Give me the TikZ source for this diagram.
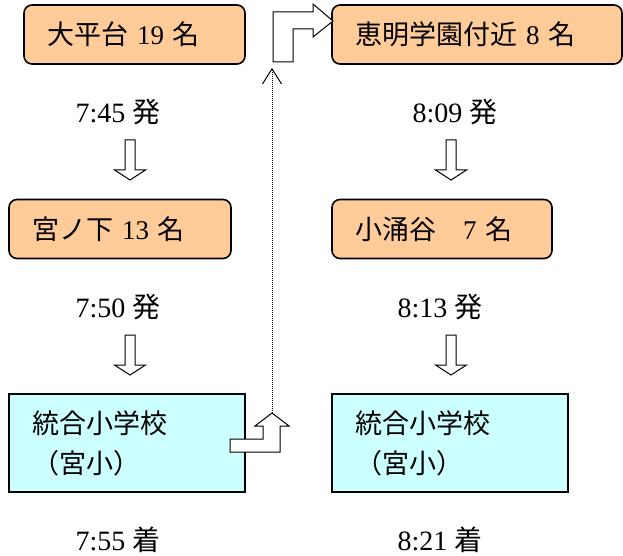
\documentclass[tikz,border=0pt]{standalone}
\usepackage{fontspec}
\setmainfont{Liberation Serif}
\newfontfamily\cjk{Noto Sans CJK JP}
\newcommand\jp[1]{{\cjk #1}}
\usetikzlibrary{arrows.meta,positioning}
\definecolor{stopfill}{RGB}{255,204,153}
\definecolor{schoolfill}{RGB}{204,255,255}
\tikzset{
    stopbox/.style={draw, line width=1.6pt, rounded corners=8pt, fill=stopfill,
      minimum height=59pt, inner xsep=23pt, align=left,
      font=\fontsize{27}{40}\selectfont}, % bus stop with its number of pupils
    schoolbox/.style={stopbox, sharp corners, fill=schoolfill, minimum height=98pt}, % the school
    timelabel/.style={font=\fontsize{28}{34}\selectfont, inner sep=0pt},
    blockarrow/.style={draw, line width=1pt, fill=white, miter limit=10},
    downarrow/.pic={
      \path[blockarrow] (-5,0) -- (5,0) -- (5,30) -- (15.5,30) -- (0,40)
        -- (-15.5,30) -- (-5,30) -- cycle;
    },
}

\begin{document}
\begin{tikzpicture}[x=1pt,y=-1pt]
  \useasboundingbox (0,0) rectangle (623,556);

  % first run
  \node[stopbox, text width=175pt] (s_0) at (134.5,34.5) {\jp{大平台} 19 \jp{名}};
  \node[timelabel] (t_0) at (118,112) {7:45 \jp{発}};
  \node[stopbox, text width=176pt] (s_1) at (120,229) {\jp{宮ノ下} 13 \jp{名}};
  \node[timelabel] (t_1) at (118,307) {7:50 \jp{発}};
  \node[schoolbox, text width=190pt] (g_0) at (127,443) {\jp{統合小学校}\\\jp{（宮小）}};
  \node[timelabel] (t_2) at (118,540) {7:55 \jp{着}};

  % second run
  \node[stopbox, text width=244pt] (s_2) at (477,34.5) {\jp{恵明学園付近} 8 \jp{名}};
  \node[timelabel] (t_3) at (455,112) {8:09 \jp{発}};
  \node[stopbox, text width=174pt] (s_3) at (442,229) {\jp{小涌谷　}7 \jp{名}};
  \node[timelabel] (t_4) at (440,307) {8:13 \jp{発}};
  \node[schoolbox, text width=190pt] (g_1) at (450,443) {\jp{統合小学校}\\\jp{（宮小）}};
  \node[timelabel] (t_5) at (440,540) {8:21 \jp{着}};

  \pic at (130,140) {downarrow};
  \pic at (130,335) {downarrow};
  \pic at (451,140) {downarrow};
  \pic at (451,335) {downarrow};

  % back to the next stop
  \path[blockarrow] (230,439) -- (263,439) -- (263,426) -- (255,426) -- (272,413)
    -- (289,426) -- (280,426) -- (280,452) -- (230,452) -- cycle;
  \path[blockarrow] (273,62) -- (273,12) -- (313,12) -- (313,4) -- (333,21)
    -- (313,37) -- (313,29) -- (293,29) -- (293,62) -- cycle;
  \coordinate (up) at (272,413);
  \coordinate (turn) at (272,62);
  \draw[densely dotted, line width=1pt, shorten >=6pt,
    -{Straight Barb[length=15pt,width=19pt]}] (up) -- (turn);
\end{tikzpicture}
\end{document}
